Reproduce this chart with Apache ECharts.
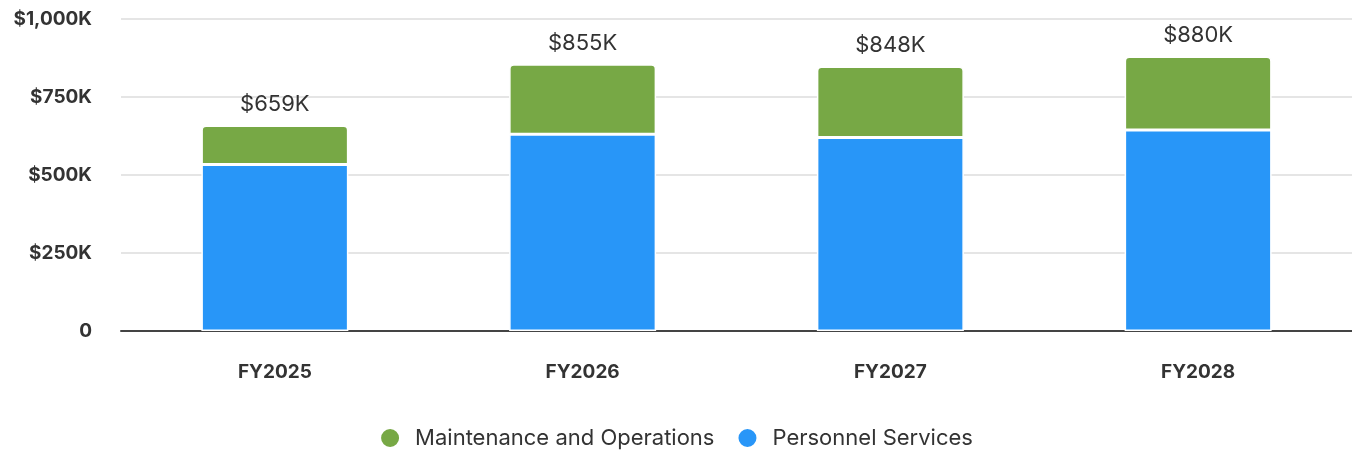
<!DOCTYPE html>
<html>
<head>
<meta charset="utf-8">
<script src="https://cdn.jsdelivr.net/npm/echarts@6/dist/echarts.min.js"></script>
<style>
  html, body { margin: 0; padding: 0; background: #fff; }
  #chart { width: 1352px; height: 452px; }
</style>
</head>
<body>
<div id="chart"></div>
<script>
const years = ['FY2025', 'FY2026', 'FY2027', 'FY2028'];
// values in $K
const personnel = [534, 631, 620, 644];
const maintenance = [125, 224, 228, 236];
const yTicks = [0, 250, 500, 750, 1000];

const chart = echarts.init(document.getElementById('chart'));
const font = 'Inter, "Open Sans", sans-serif';

function fmtK(v) {
    if (v === 0) return '0';
    return '$' + v.toLocaleString('en-US') + 'K';
}

chart.setOption({
    animation: false,
    textStyle: { fontFamily: font },
    grid: { left: 121, right: 0, top: 19, bottom: 121 },
    legend: {
        top: 422,
        left: 'center',
        icon: 'circle',
        itemWidth: 20,
        itemHeight: 20,
        itemGap: 22,
        textStyle: { fontSize: 22, color: '#333', fontFamily: font, padding: [0, 0, 0, 10] },
        data: ['Maintenance and Operations', 'Personnel Services']
    },
    xAxis: {
        type: 'category',
        data: years,
        axisTick: { show: false },
        axisLine: { lineStyle: { color: '#444', width: 2 } },
        axisLabel: { margin: 32, fontSize: 19, fontWeight: 'bold', color: '#333' }
    },
    yAxis: {
        type: 'value',
        min: yTicks[0],
        max: yTicks[yTicks.length - 1],
        interval: 250,
        axisLine: { show: false },
        axisTick: { show: false },
        splitLine: { lineStyle: { color: '#e5e5e5', width: 2 } },
        axisLabel: { margin: 29, fontSize: 19, fontWeight: 'bold', color: '#333', formatter: fmtK }
    },
    series: [
        {
            name: 'Personnel Services',
            type: 'bar',
            stack: 'total',
            barWidth: 147,
            data: personnel,
            itemStyle: { color: '#2896f8', borderColor: '#fff', borderWidth: 1.5 }
        },
        {
            name: 'Maintenance and Operations',
            type: 'bar',
            stack: 'total',
            barWidth: 147,
            data: maintenance,
            itemStyle: { color: '#77a845', borderColor: '#fff', borderWidth: 1.5, borderRadius: [4, 4, 0, 0] },
            label: {
                show: true,
                position: 'top',
                distance: 10,
                fontSize: 22,
                color: '#333',
                formatter: function (p) {
                    return fmtK(personnel[p.dataIndex] + maintenance[p.dataIndex]);
                }
            }
        }
    ]
});
</script>
</body>
</html>
